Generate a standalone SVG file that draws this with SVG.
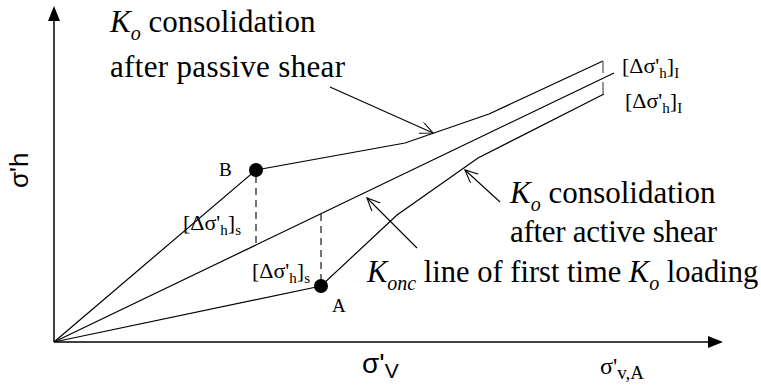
<svg xmlns="http://www.w3.org/2000/svg" width="761" height="385" viewBox="0 0 761 385">
<defs>
<style>
.ln{fill:none;stroke:#000;stroke-width:1.2}
.ax{fill:none;stroke:#000;stroke-width:1.5}
.ds{fill:none;stroke:#000;stroke-width:1.1;stroke-dasharray:7 5}
.gd{fill:none;stroke:#777;stroke-width:1.5;stroke-dasharray:12 9}
.ar{fill:none;stroke:#000;stroke-width:1.1}
.t{font-family:"Liberation Serif","Times New Roman",serif;font-size:31px;fill:#000}
.i{font-style:italic}
.s{font-family:"Liberation Serif","Times New Roman",serif;font-size:22px;fill:#000}
.sa{font-family:"Liberation Sans",Arial,sans-serif;fill:#000}
</style>
<marker id="open" markerUnits="userSpaceOnUse" markerWidth="16" markerHeight="14" refX="13" refY="6" orient="auto">
<path d="M0,0 L13,6 L0,12" fill="none" stroke="#000" stroke-width="1.1"/>
</marker>
</defs>

<g id="axes">
<path class="ax" d="M54,342 V18"/>
<path d="M54,6 L48,21 L60,21 Z" fill="#000"/>
<path class="ax" d="M54,342 H710"/>
<path d="M723,342 L708,336 L708,348 Z" fill="#000"/>
</g>

<g id="connectors">
<path id="konc-line" class="ln" d="M54,342 L614,73"/>
<path id="passive-path" class="ln" d="M54,342 L256,170 L405,143 L489,114 L603,61"/>
<path id="active-path" class="ln" d="M54,342 L321,286 L397,215 L478,158 L604,94"/>
<path class="ds" d="M256,176 V247"/>
<path class="ds" d="M321,214 V280"/>
<path class="gd" d="M603,61 V95"/>
<path class="ar" d="M330,87 L433,133" marker-end="url(#open)"/>
<path class="ar" d="M417,248 L367,198" marker-end="url(#open)"/>
<path class="ar" d="M500,202 L465,170" marker-end="url(#open)"/>
</g>

<g id="point-B">
<circle cx="256" cy="170" r="7" fill="#000"/>
<text class="t" x="219" y="176" style="font-size:19px">B</text>
</g>
<g id="point-A">
<circle cx="321" cy="286" r="7" fill="#000"/>
<text class="t" x="332" y="312" style="font-size:19px">A</text>
</g>

<g id="label-passive">
<text class="t" x="110" y="32"><tspan class="i">K</tspan><tspan class="i" dy="8" style="font-size:20px">o</tspan><tspan dy="-8"> consolidation</tspan></text>
<text class="t" x="110" y="77" textLength="235">after passive shear</text>
</g>

<g id="label-active">
<text class="t" x="510" y="203"><tspan class="i">K</tspan><tspan class="i" dy="8" style="font-size:20px">o</tspan><tspan dy="-8"> consolidation</tspan></text>
<text class="t" x="510" y="242" textLength="207">after active shear</text>
</g>

<g id="label-konc">
<text class="t" x="367" y="282" style="font-size:30.5px"><tspan class="i">K</tspan><tspan class="i" dy="8" style="font-size:20px">onc</tspan><tspan dy="-8"> line of first time </tspan><tspan class="i">K</tspan><tspan class="i" dy="8" style="font-size:20px">o</tspan><tspan dy="-8"> loading</tspan></text>
</g>

<g id="label-ds-B">
<text class="s" x="183" y="230">[Δσ'<tspan dy="5" style="font-size:15px">h</tspan><tspan dy="-5">]</tspan><tspan dy="5" style="font-size:15px">s</tspan></text>
</g>
<g id="label-ds-A">
<text class="s" x="252" y="278">[Δσ'<tspan dy="5" style="font-size:15px">h</tspan><tspan dy="-5">]</tspan><tspan dy="5" style="font-size:15px">s</tspan></text>
</g>
<g id="label-dI-1">
<text class="s" x="622" y="73">[Δσ'<tspan dy="5" style="font-size:15px">h</tspan><tspan dy="-5">]</tspan><tspan dy="5" style="font-size:15px">I</tspan></text>
</g>
<g id="label-dI-2">
<text class="s" x="625" y="108">[Δσ'<tspan dy="5" style="font-size:15px">h</tspan><tspan dy="-5">]</tspan><tspan dy="5" style="font-size:15px">I</tspan></text>
</g>

<g id="label-yaxis">
<text class="sa" transform="translate(28,188) rotate(-90)" style="font-size:26px">σ'h</text>
</g>
<g id="label-xaxis">
<text class="sa" x="362" y="373" style="font-size:28px">σ'<tspan dy="5" style="font-size:21px">V</tspan></text>
</g>
<g id="label-sva">
<text class="s" x="600" y="374" style="font-size:24px">σ'<tspan dy="5" style="font-size:19px">v,A</tspan></text>
</g>
</svg>
